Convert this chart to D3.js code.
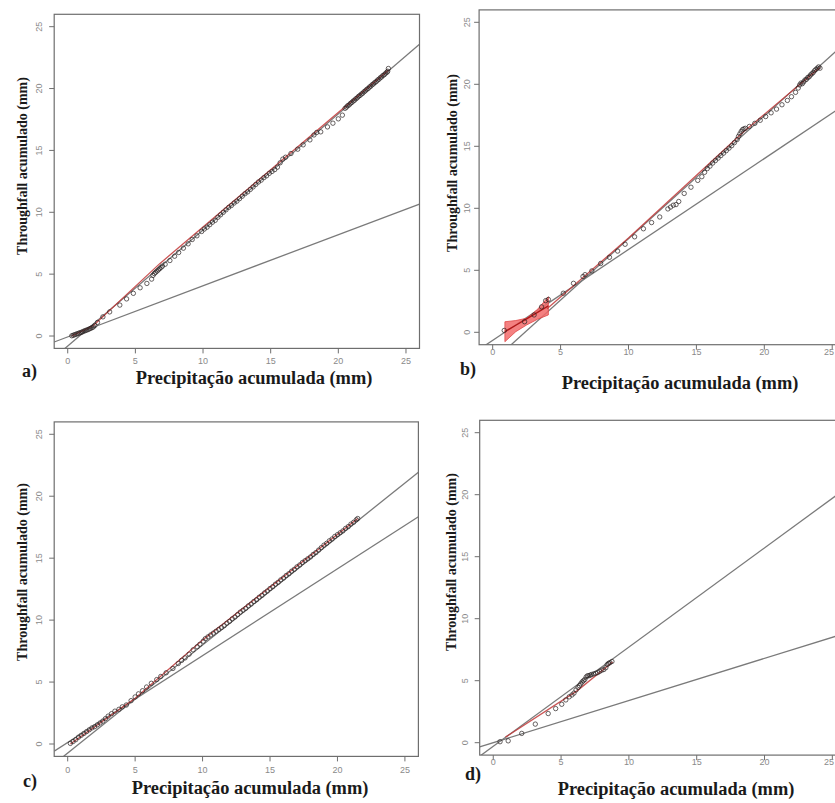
<!DOCTYPE html>
<html><head><meta charset="utf-8">
<script src="https://cdn.jsdelivr.net/npm/d3@7"></script>
<style>body{margin:0;background:#fff}svg{display:block}</style>
</head><body>
<svg id="chart" width="835" height="803"></svg>
<script>
// ---------- DATA ----------
const axisTicks = [0, 5, 10, 15, 20, 25];
const axisDomain = [-1, 26];
const panelLabels = ["a)", "b)", "c)", "d)"];
const xTitle = "Precipitação acumulada (mm)";
const yTitle = "Throughfall acumulado (mm)";

// Panel a
const precipA = [0.30,0.40,0.50,0.60,0.70,0.80,0.90,1.00,1.10,1.20,1.30,1.40,1.50,1.60,1.70,1.80,1.90,2.00,
  2.20,2.60,3.10,3.85,4.35,4.85,5.35,5.85,6.20,
  6.30,6.40,6.50,6.60,6.70,6.80,6.90,7.00,7.20,
  7.55,7.90,8.20,8.55,8.90,9.20,9.55,9.90,
  10.1,10.3,10.5,10.7,10.9,11.1,11.3,11.5,11.7,11.9,12.1,12.3,12.5,12.7,12.9,13.1,13.3,13.5,13.7,13.9,14.1,14.3,14.5,14.7,14.9,15.1,15.3,15.5,15.7,15.9,16.1,
  16.5,17.0,17.4,17.9,18.2,18.4,18.7,19.2,19.6,20.0,20.3,
  20.5,20.6,20.7,20.8,20.9,21.0,21.1,21.2,21.3,21.4,21.5,21.6,21.7,21.8,21.9,22.0,22.1,22.2,22.3,22.4,22.5,22.6,22.7,22.8,22.9,23.0,23.1,23.2,23.3,23.4,23.5,23.6,23.65,23.7];
const throughA = [0.02,0.06,0.10,0.14,0.18,0.22,0.26,0.30,0.34,0.40,0.44,0.48,0.52,0.58,0.62,0.68,0.74,0.85,
  1.10,1.55,1.95,2.50,3.00,3.45,3.90,4.25,4.60,
  4.90,5.05,5.15,5.25,5.35,5.45,5.55,5.65,5.80,
  6.10,6.45,6.75,7.10,7.45,7.80,8.10,8.45,
  8.65,8.80,9.00,9.20,9.35,9.60,9.80,10.00,10.20,10.40,10.55,10.75,10.90,11.10,11.30,11.50,11.65,11.85,12.05,12.25,12.45,12.60,12.80,12.95,13.15,13.30,13.45,13.65,14.00,14.30,14.45,
  14.75,15.10,15.45,15.85,16.25,16.45,16.50,16.90,17.20,17.55,17.85,
  18.40,18.50,18.62,18.68,18.80,18.88,18.99,19.06,19.18,19.25,19.37,19.44,19.55,19.62,19.74,19.82,19.93,20.00,20.12,20.19,20.31,20.38,20.49,20.56,20.68,20.75,20.87,20.94,21.06,21.12,21.24,21.32,21.40,21.62];
const refSlopesA = [0.938, 0.413];
const refInterceptsA = [-0.81, -0.07];
const fitXA = [0.3, 1.9, 6.8, 23.7];
const fitYA = [0.0, 0.85, 5.85, 21.5];

// Panel b
const precipB = [0.85,2.35,3.05,3.60,3.90,4.10,5.20,5.95,6.65,6.80,7.30,7.95,8.60,9.20,9.75,10.45,11.10,11.70,12.30,12.90,13.10,13.30,13.50,13.70,14.10,14.60,15.10,15.40,15.60,
  15.80,16.00,16.20,16.40,16.60,16.80,17.00,17.20,17.40,17.60,17.80,18.00,18.10,18.20,18.30,18.40,18.50,18.60,
  18.90,19.30,19.70,20.10,20.50,20.90,21.30,21.70,22.00,22.30,22.50,22.60,22.70,22.80,22.90,23.00,23.10,23.20,23.30,23.40,23.50,23.60,23.70,23.80,23.90,24.00,24.10];
const throughB = [0.15,0.85,1.40,2.05,2.55,2.65,3.15,3.95,4.50,4.65,4.95,5.55,6.05,6.55,7.10,7.70,8.35,8.85,9.30,9.95,10.10,10.25,10.30,10.55,11.20,11.70,12.25,12.55,12.90,
  13.20,13.40,13.65,13.85,14.05,14.25,14.45,14.65,14.85,15.05,15.30,15.55,15.80,16.00,16.20,16.35,16.40,16.45,
  16.60,16.85,17.10,17.40,17.70,18.00,18.35,18.70,19.00,19.35,19.70,19.95,20.10,20.05,20.20,20.35,20.40,20.55,20.60,20.75,20.85,20.95,21.10,21.20,21.30,21.40,21.30];
const refSlopesB = [0.99, 0.733];
const refInterceptsB = [-2.35, -0.65];
const fitXB = [4.0, 10.0, 18.5, 24.1];
const fitYB = [1.9, 7.6, 16.2, 21.35];
const bandXB = [0.9, 1.7, 2.5, 3.3, 4.1];
const bandLowB = [-0.76, 0.05, 0.59, 1.05, 1.40];
const bandHighB = [0.85, 0.95, 1.13, 1.85, 2.87];
const bandFitYB = [0.05, 0.57, 1.09, 1.61, 2.13];

// Panel c
const precipC = [0.20,0.40,0.60,0.80,1.00,1.20,1.40,1.60,1.80,2.00,2.20,2.40,2.60,2.80,3.00,3.25,3.50,3.80,4.05,4.35,4.70,5.00,5.25,5.55,5.85,6.20,6.60,6.90,7.30,7.80,8.20,8.45,8.70,9.00,9.30,9.60,9.80,10.05,10.20,10.40,10.60,10.80,11.00,11.20,11.40,
  11.60,11.80,12.00,12.20,12.40,12.60,12.80,13.00,13.20,13.40,13.60,13.80,14.00,14.20,14.40,14.60,14.80,15.00,15.20,15.40,15.60,15.80,16.00,16.20,16.40,16.60,16.80,17.00,17.20,17.40,17.60,17.80,18.00,18.20,18.40,18.60,18.80,19.00,19.20,19.40,19.60,19.80,20.00,20.20,20.40,20.60,20.80,21.00,21.20,21.40,21.50];
const throughC = [0.05,0.20,0.35,0.55,0.70,0.85,1.00,1.15,1.30,1.40,1.55,1.70,1.85,2.05,2.25,2.45,2.65,2.80,3.00,3.15,3.50,3.80,4.05,4.30,4.60,4.90,5.20,5.45,5.75,6.10,6.50,6.75,6.95,7.25,7.60,7.85,8.05,8.30,8.50,8.65,8.80,8.95,9.10,9.25,9.40,
  9.55,9.75,9.90,10.10,10.25,10.45,10.65,10.80,10.95,11.15,11.30,11.50,11.65,11.85,12.00,12.20,12.35,12.55,12.70,12.90,13.05,13.25,13.40,13.60,13.75,13.95,14.10,14.30,14.45,14.65,14.80,14.95,15.10,15.30,15.45,15.65,15.85,16.05,16.20,16.40,16.55,16.75,16.90,17.05,17.20,17.40,17.55,17.75,17.90,18.10,18.20];
const refSlopesC = [0.872, 0.701];
const refInterceptsC = [-0.73, 0.12];
const fitXC = [0.2, 5.0, 10.0, 21.5];
const fitYC = [0.0, 3.7, 8.4, 18.2];

// Panel d
const precipD = [0.50,1.10,2.10,3.10,4.05,4.60,5.05,5.35,5.60,5.80,5.95,6.10,6.25,6.35,6.45,6.55,6.65,6.75,6.85,6.95,7.05,7.15,7.25,7.40,7.55,7.70,7.85,8.00,8.15,8.30,8.40,8.50,8.60,8.75];
const throughD = [0.08,0.15,0.75,1.50,2.35,2.75,3.10,3.45,3.70,3.85,4.00,4.25,4.45,4.60,4.75,4.90,5.00,5.10,5.30,5.40,5.40,5.45,5.50,5.55,5.60,5.65,5.75,5.85,5.90,6.05,6.30,6.40,6.45,6.55];
const refSlopesD = [0.80, 0.34];
const refInterceptsD = [-0.29, 0.0];
const fitXD = [0.9, 6.2, 8.8];
const fitYD = [0.45, 4.2, 6.5];

// ---------- LAYOUT ----------
const W = 835;
const layouts = [
  {x0:54.2, x1:419.5, y0:348.4, y1:14.3, ytl:39, xtl:361, lab:[22,377], tt:[254,384], yl:[22,166]},
  {x0:479.1, x1:845.8, y0:344.7, y1:9.9, ytl:467, xtl:352, lab:[460,375], tt:[680,389], yl:[452,163]},
  {x0:54.2, x1:418.4, y0:756.4, y1:421.9, ytl:39, xtl:770, lab:[23,787], tt:[250,794], yl:[22,572]},
  {x0:479.7, x1:845.9, y0:755.1, y1:420.3, ytl:465, xtl:762, lab:[465,780], tt:[676,795], yl:[451,562]}
];

const panels = [
  {px:precipA, ty:throughA, slopes:refSlopesA, ints:refInterceptsA, fx:fitXA, fy:fitYA},
  {px:precipB, ty:throughB, slopes:refSlopesB, ints:refInterceptsB, fx:fitXB, fy:fitYB, band:true},
  {px:precipC, ty:throughC, slopes:refSlopesC, ints:refInterceptsC, fx:fitXC, fy:fitYC},
  {px:precipD, ty:throughD, slopes:refSlopesD, ints:refInterceptsD, fx:fitXD, fy:fitYD}
];

const svg = d3.select("#chart");
const boxColor = "#6e6e6e", tickColor = "#8a8a8a";
const serif = "'Liberation Serif', 'Times New Roman', 'DejaVu Serif', serif";
const sans = "'Liberation Sans', Arial, sans-serif";

panels.forEach((p, i) => {
  const L = layouts[i];
  const x = d3.scaleLinear().domain(axisDomain).range([L.x0, L.x1]);
  const y = d3.scaleLinear().domain(axisDomain).range([L.y0, L.y1]);
  const g = svg.append("g");
  const clipId = "clip" + i;
  g.append("clipPath").attr("id", clipId).append("rect")
    .attr("x", L.x0).attr("y", L.y1).attr("width", L.x1 - L.x0).attr("height", L.y0 - L.y1);
  const plot = g.append("g").attr("clip-path", `url(#${clipId})`);

  p.slopes.forEach((s, k) => {
    const b = p.ints[k];
    plot.append("line")
      .attr("x1", x(axisDomain[0])).attr("y1", y(b + s * axisDomain[0]))
      .attr("x2", x(axisDomain[1])).attr("y2", y(b + s * axisDomain[1]))
      .attr("stroke", "#7a7a7a").attr("stroke-width", 1.3);
  });

  if (p.band) {
    const area = d3.area().x((d, j) => x(bandXB[j])).y0((d, j) => y(bandLowB[j])).y1((d, j) => y(bandHighB[j]));
    plot.append("path").datum(bandXB).attr("d", area)
      .attr("fill", "#f26b6b").attr("fill-opacity", 0.85).attr("stroke", "#e04848").attr("stroke-width", 0.8);
    const bl = d3.line().x((d, j) => x(bandXB[j])).y((d, j) => y(bandFitYB[j]));
    plot.append("path").datum(bandXB).attr("d", bl).attr("fill", "none").attr("stroke", "#b01818").attr("stroke-width", 1.4);
  }

  const fl = d3.line().x((d, j) => x(p.fx[j])).y((d, j) => y(p.fy[j]));
  plot.append("path").datum(p.fx).attr("d", fl).attr("fill", "none")
    .attr("stroke", "#c23a3a").attr("stroke-width", 1.3).attr("stroke-opacity", 0.85);

  plot.selectAll("circle.pt").data(p.px).join("circle").attr("class", "pt")
    .attr("cx", (d) => x(d)).attr("cy", (d, j) => y(p.ty[j])).attr("r", 2.2)
    .attr("fill", "none").attr("stroke", "#2a2222").attr("stroke-opacity", 0.7).attr("stroke-width", 1);

  g.append("rect").attr("x", L.x0).attr("y", L.y1).attr("width", L.x1 - L.x0).attr("height", L.y0 - L.y1)
    .attr("fill", "none").attr("stroke", boxColor).attr("stroke-width", 1.2);

  axisTicks.forEach(t => {
    g.append("line").attr("x1", x(t)).attr("x2", x(t)).attr("y1", L.y0).attr("y2", L.y0 + 5)
      .attr("stroke", boxColor).attr("stroke-width", 1);
    g.append("text").attr("x", Math.min(x(t), W - 6)).attr("y", L.xtl).attr("dy", "0.35em")
      .attr("text-anchor", "middle").attr("font-family", sans)
      .attr("font-size", 9).attr("fill", tickColor).text(t);
    g.append("line").attr("x1", L.x0 - 5).attr("x2", L.x0).attr("y1", y(t)).attr("y2", y(t))
      .attr("stroke", boxColor).attr("stroke-width", 1);
    g.append("text").attr("transform", `translate(${L.ytl},${y(t)}) rotate(-90)`).attr("dy", "0.35em")
      .attr("text-anchor", "middle").attr("font-family", sans)
      .attr("font-size", 9).attr("fill", tickColor).text(t);
  });

  g.append("text").attr("x", L.tt[0]).attr("y", L.tt[1]).attr("text-anchor", "middle")
    .attr("font-family", serif).attr("font-weight", "bold")
    .attr("font-size", 18.4).attr("fill", "#1a1a1a").text(xTitle);
  g.append("text").attr("transform", `translate(${L.yl[0]},${L.yl[1]}) rotate(-90)`).attr("dy", "0.35em")
    .attr("text-anchor", "middle").attr("font-family", serif)
    .attr("font-weight", "bold").attr("font-size", 14).attr("fill", "#1a1a1a").text(yTitle);
  g.append("text").attr("x", L.lab[0]).attr("y", L.lab[1])
    .attr("font-family", serif).attr("font-weight", "bold")
    .attr("font-size", 18).attr("fill", "#1a1a1a").text(panelLabels[i]);
});
</script>
</body></html>
